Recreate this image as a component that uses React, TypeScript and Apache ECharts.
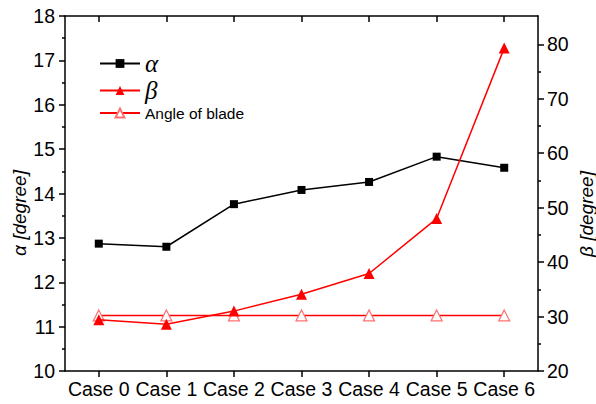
import React, { useEffect, useRef } from "react";
import * as echarts from "echarts";

const categories = ["Case 0", "Case 1", "Case 2", "Case 3", "Case 4", "Case 5", "Case 6"];
const alphaValues = [12.87, 12.8, 13.76, 14.08, 14.26, 14.83, 14.58];
const betaValues = [29.4, 28.6, 31.0, 34.1, 37.9, 48.0, 79.3];
const bladeValues = [30.2, 30.2, 30.2, 30.2, 30.2, 30.2, 30.2];
const leftTicks = [10, 11, 12, 13, 14, 15, 16, 17, 18];
const rightTicks = [20, 30, 40, 50, 60, 70, 80];
const rightMinorTicks = [25, 35, 45, 55, 65, 75];

const FONT = "Liberation Sans, Arial, sans-serif";

export default function App() {
  const ref = useRef<HTMLDivElement>(null);
  useEffect(() => {
    if (!ref.current) return;
    const chart = echarts.init(ref.current, null, { renderer: "svg" });
    const axisLine = { show: true, lineStyle: { color: "#000", width: 1.5 } };
    const rightMin = 20;
    const rightMax = 85.2;
    chart.setOption({
      animation: false,
      backgroundColor: "#fff",
      grid: { left: 65, right: 58, top: 16, bottom: 33 },
      legend: {
        orient: "vertical",
        left: 99,
        top: 51,
        padding: 0,
        itemWidth: 40,
        itemHeight: 11,
        itemGap: 2,
        data: [
          { name: "α", textStyle: { fontFamily: "Liberation Serif, serif", fontStyle: "italic", fontSize: 25, color: "#000" } },
          { name: "β", textStyle: { fontFamily: "Liberation Serif, serif", fontStyle: "italic", fontSize: 25, color: "#000" } },
          { name: "Angle of blade", textStyle: { fontFamily: FONT, fontSize: 15.5, color: "#000" } },
        ],
      },
      xAxis: [
        {
          type: "category",
          data: categories,
          position: "bottom",
          boundaryGap: true,
          axisLine,
          axisTick: { show: true, alignWithLabel: true, inside: false, length: 6, lineStyle: { color: "#000", width: 1.5 } },
          axisLabel: { color: "#000", fontFamily: FONT, fontSize: 19.5, margin: 8, interval: 0, hideOverlap: false },
          splitLine: { show: false },
        },
        {
          type: "category",
          data: categories,
          position: "top",
          boundaryGap: true,
          axisLine,
          axisTick: { show: true, alignWithLabel: true, inside: true, length: 6, lineStyle: { color: "#000", width: 1.5 } },
          axisLabel: { show: false },
          splitLine: { show: false },
        },
      ],
      yAxis: [
        {
          type: "value",
          min: 10,
          max: 18,
          interval: 1,
          position: "left",
          axisLine,
          axisTick: { show: true, length: 6, lineStyle: { color: "#000", width: 1.5 } },
          minorTick: { show: true, splitNumber: 2, length: 3, lineStyle: { color: "#000", width: 1.5 } },
          axisLabel: {
            color: "#000",
            fontFamily: FONT,
            fontSize: 19.5,
            margin: 10,
            customValues: leftTicks,
          },
          splitLine: { show: false },
          minorSplitLine: { show: false },
        },
        {
          type: "value",
          min: rightMin,
          max: rightMax,
          position: "right",
          axisLine,
          axisTick: { show: true, length: 6, customValues: rightTicks, lineStyle: { color: "#000", width: 1.5 } },
          axisLabel: {
            color: "#000",
            fontFamily: FONT,
            fontSize: 19.5,
            margin: 9,
            customValues: rightTicks,
          },
          splitLine: { show: false },
        },
        {
          type: "value",
          min: rightMin,
          max: rightMax,
          position: "right",
          axisLine: { show: false },
          axisTick: { show: true, length: 3, customValues: rightMinorTicks, lineStyle: { color: "#000", width: 1.5 } },
          axisLabel: { show: false, customValues: rightMinorTicks },
          splitLine: { show: false },
        },
      ],
      graphic: [
        {
          type: "text",
          x: 19,
          y: 213,
          rotation: Math.PI / 2,
          style: {
            text: "α [degree]",
            fontFamily: FONT,
            fontStyle: "italic",
            fontSize: 19,
            fill: "#000",
            align: "center",
            verticalAlign: "middle",
          },
        },
        {
          type: "text",
          x: 586,
          y: 214,
          rotation: Math.PI / 2,
          style: {
            text: "β [degree]",
            fontFamily: FONT,
            fontStyle: "italic",
            fontSize: 19,
            fill: "#000",
            align: "center",
            verticalAlign: "middle",
          },
        },
      ],
      series: [
        {
          name: "α",
          type: "line",
          xAxisIndex: 0,
          yAxisIndex: 0,
          data: alphaValues,
          symbol: "rect",
          symbolSize: 8,
          lineStyle: { color: "#000", width: 1.5 },
          itemStyle: { color: "#000" },
          z: 3,
        },
        {
          name: "β",
          type: "line",
          xAxisIndex: 0,
          yAxisIndex: 1,
          data: betaValues,
          symbol: "triangle",
          symbolSize: 11,
          lineStyle: { color: "#ff0000", width: 1.5 },
          itemStyle: { color: "#ff0000" },
          z: 4,
        },
        {
          name: "Angle of blade",
          type: "line",
          xAxisIndex: 0,
          yAxisIndex: 1,
          data: bladeValues,
          symbol: "triangle",
          symbolSize: 11,
          lineStyle: { color: "#ff0000", width: 1.5 },
          itemStyle: { color: "#ffffff", borderColor: "#ff7070", borderWidth: 1.2 },
          z: 2,
        },
      ],
    });
    return () => chart.dispose();
  }, []);
  return <div ref={ref} style={{ width: 596, height: 404, position: "fixed", left: 0, top: 0 }} />;
}
